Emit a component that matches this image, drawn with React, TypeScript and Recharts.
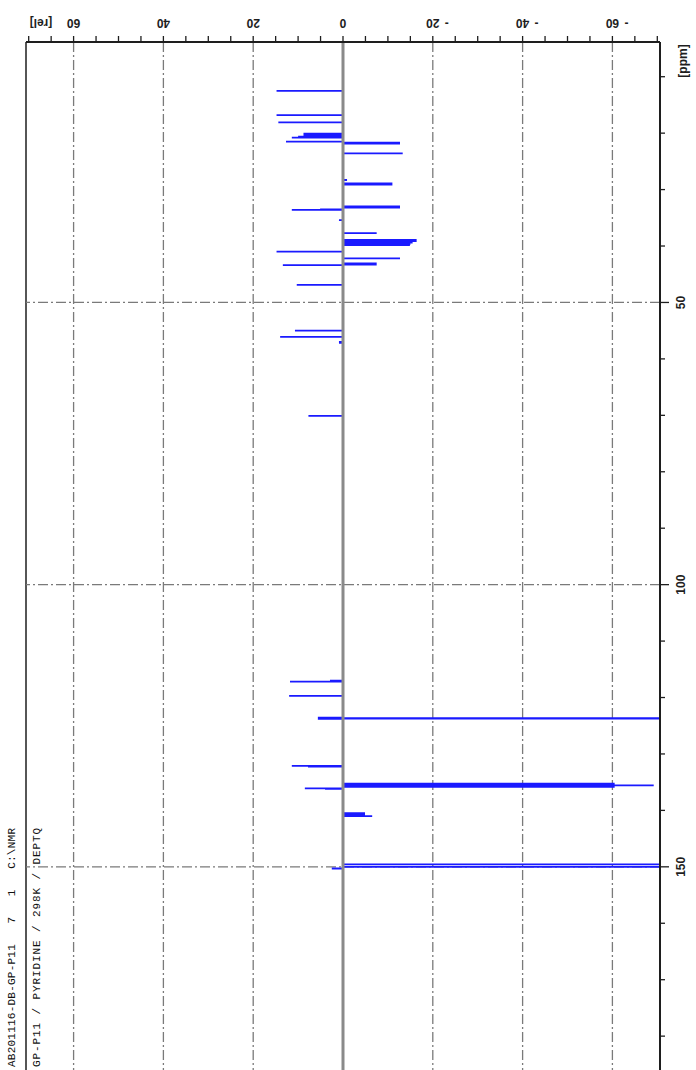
import { ComposedChart, Line, XAxis, YAxis, ReferenceLine, Customized } from "recharts";

// DEPTQ peaks: position in ppm and intensity in [rel]
const peakPpm = [
  12.5, 16.8, 18.1, 20.1, 20.35, 20.6, 20.8, 21.5, 21.7, 21.85, 23.6, 28.3, 28.9, 29.1,
  33.0, 33.2, 33.5, 33.6, 35.4, 37.7, 38.9, 39.15, 39.4, 39.65, 39.85, 41.0, 42.2,
  43.1, 43.3, 43.4, 46.9, 55.0, 56.1, 57.0, 57.15, 70.1, 117.0, 117.2, 119.7,
  123.55, 123.65, 123.75, 123.8, 132.1, 132.25, 135.25, 135.4, 135.55, 135.7, 135.85,
  136.1, 136.2, 140.5, 140.75, 141.0, 149.55, 150.0, 150.3,
];
const peakRel = [
  14.8, 14.8, 14.4, 8.8, 8.8, 10.0, 11.4, 12.7, -12.7, -12.7, -13.3, -0.9, -11.0, -11.0,
  -12.7, -12.7, 5.1, 11.4, 0.9, -7.5, -16.4, -16.4, -15.5, -15.0, -14.9, 14.8, -12.7,
  -7.5, -7.5, 13.4, 10.3, 10.7, 14.0, 0.9, 0.9, 7.7, 2.9, 11.8, 12.0,
  5.6, -80, -80, 5.6, 11.4, 7.8, -60.5, -60.5, -69.2, -60.5, -60.5,
  8.5, 4.0, -4.9, -4.9, -6.5, -80, -80, 2.5,
];

const relTicks = [70, 65, 60, 55, 50, 45, 40, 35, 30, 25, 20, 15, 10, 5, 0, -5, -10, -15, -20, -25, -30, -35, -40, -45, -50, -55, -60, -65, -70];
const relLabels = [60, 40, 20, 0, -20, -40, -60];
const relGrid = [60, 40, 20, -20, -40, -60];
const ppmTicks = [10, 20, 30, 40, 50, 60, 70, 80, 90, 100, 110, 120, 130, 140, 150, 160, 170, 180];
const ppmLabels = [50, 100, 150];
const ppmGrid = [50, 100, 150];
const infoLines = ["AB201116-DB-GP-P11   7   1   C:\\NMR", "GP-P11 / PYRIDINE / 298K / DEPTQ"];

const PPM_MIN = 3.85;
const PPM_MAX = 186;
const REL_LIM = 70.6;

const W = 696;
const H = 1070;
const AXIS_TOP = 42;
const PLOT_LEFT = 26;
const PLOT_RIGHT = 660;
const INK = "#1e1e1e";
const BLUE = "#1a1aff";
const labelFont = { fontFamily: "Liberation Sans, Arial, sans-serif", fontSize: 12, fontWeight: 700, fill: INK };

const spectrum: { ppm: number; rel: number }[] = [{ ppm: PPM_MIN, rel: 0 }];
peakPpm.forEach((p, i) => {
  spectrum.push({ ppm: p, rel: 0 }, { ppm: p, rel: peakRel[i] }, { ppm: p, rel: 0 });
});
spectrum.push({ ppm: PPM_MAX, rel: 0 });

function RelTick({ x, payload }: any) {
  const v = payload.value;
  const labelled = relLabels.includes(v);
  const ly = 23;
  return (
    <g>
      <line x1={x} x2={x} y1={AXIS_TOP} y2={AXIS_TOP - 6} stroke={INK} strokeWidth={1.3} />
      {labelled && (
        <text x={x} y={ly} transform={`rotate(180 ${x} ${ly})`} textAnchor="middle" dominantBaseline="central" {...labelFont}>
          {Math.abs(v)}
        </text>
      )}
      {labelled && v < 0 && (
        <text x={x + 14} y={ly} textAnchor="middle" dominantBaseline="central" {...labelFont}>
          -
        </text>
      )}
    </g>
  );
}

function PpmTick({ y, payload }: any) {
  const v = payload.value;
  const major = ppmLabels.includes(v);
  const lx = 681;
  return (
    <g>
      <line x1={PLOT_RIGHT} x2={PLOT_RIGHT + (major ? 9 : 5)} y1={y} y2={y} stroke={INK} strokeWidth={1.3} />
      {major && (
        <text x={lx} y={y} transform={`rotate(-90 ${lx} ${y})`} textAnchor="middle" dominantBaseline="central" {...labelFont}>
          {v}
        </text>
      )}
    </g>
  );
}

function Frame() {
  return (
    <g>
      <line x1={PLOT_LEFT} x2={PLOT_LEFT} y1={AXIS_TOP} y2={H} stroke={INK} strokeWidth={1.5} />
      <text x={41} y={23} transform="rotate(180 41 23)" textAnchor="middle" dominantBaseline="central" {...labelFont}>
        [rel]
      </text>
      <text x={683} y={61} transform="rotate(-90 683 61)" textAnchor="middle" dominantBaseline="central" {...labelFont}>
        [ppm]
      </text>
      {infoLines.map((t, i) => {
        const x = i === 0 ? 12 : 37;
        const y = 1067;
        return (
          <text
            key={t}
            x={x}
            y={y}
            transform={`rotate(-90 ${x} ${y})`}
            textAnchor="start"
            dominantBaseline="central"
            textLength={239}
            lengthAdjust="spacing"
            style={{ whiteSpace: "pre" }}
            fontFamily="Liberation Mono, Courier New, monospace"
            fontSize={11}
            fill="#111"
          >
            {t}
          </text>
        );
      })}
    </g>
  );
}

export default function App() {
  return (
    <div style={{ position: "absolute", left: 0, top: 0, width: W, height: H, background: "#fff" }}>
      <ComposedChart
        width={W}
        height={H}
        data={spectrum}
        layout="vertical"
        margin={{ top: 0, right: 0, bottom: 0, left: PLOT_LEFT }}
      >
        <XAxis
          type="number"
          dataKey="rel"
          orientation="top"
          domain={[-REL_LIM, REL_LIM]}
          reversed
          allowDataOverflow
          ticks={relTicks}
          interval={0}
          height={AXIS_TOP}
          axisLine={{ stroke: INK, strokeWidth: 2 }}
          tickLine={false}
          tick={<RelTick />}
        />
        <YAxis
          type="number"
          dataKey="ppm"
          orientation="right"
          domain={[PPM_MIN, PPM_MAX]}
          allowDataOverflow
          ticks={ppmTicks}
          interval={0}
          width={W - PLOT_RIGHT}
          axisLine={{ stroke: INK, strokeWidth: 2 }}
          tickLine={false}
          tick={<PpmTick />}
        />
        {relGrid.map((v) => (
          <ReferenceLine key={`r${v}`} x={v} stroke="#7a7a7a" strokeWidth={1.3} strokeDasharray="10 3 2 3" />
        ))}
        {ppmGrid.map((v) => (
          <ReferenceLine key={`p${v}`} y={v} stroke="#7a7a7a" strokeWidth={1.3} strokeDasharray="10 3 2 3" />
        ))}
        <Line
          type="linear"
          dataKey="rel"
          stroke={BLUE}
          strokeWidth={1.8}
          dot={false}
          activeDot={false}
          isAnimationActive={false}
        />
        <ReferenceLine x={0} stroke="#8a8a8a" strokeWidth={3} />
        <Customized component={Frame} />
      </ComposedChart>
    </div>
  );
}
